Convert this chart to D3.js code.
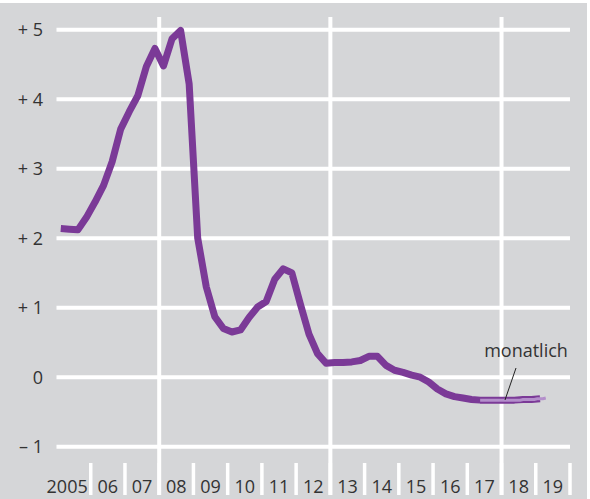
<!DOCTYPE html>
<html><head><meta charset="utf-8">
<script src="https://cdn.jsdelivr.net/npm/d3@7"></script>
<style>
html,body{margin:0;padding:0;background:#fff;}
svg text{font-family:"Open Sans","DejaVu Sans",sans-serif;fill:#333;}
</style></head>
<body><svg id="c" width="590" height="499"></svg>
<script>
// Quarterly values, 2005 Q1 .. 2019 Q1
const quarterlyStart = 2005;
const quarterlyValues = [
  2.14, 2.13, 2.12, 2.30,
  2.52, 2.76, 3.10, 3.57,
  3.82, 4.05, 4.47, 4.73,
  4.48, 4.87, 4.99, 4.22,
  2.00, 1.30, 0.87, 0.70,
  0.65, 0.68, 0.86, 1.01,
  1.09, 1.41, 1.56, 1.50,
  1.05, 0.62, 0.34, 0.20,
  0.21, 0.21, 0.22, 0.24,
  0.30, 0.30, 0.17, 0.10,
  0.07, 0.03, 0.00, -0.07,
  -0.17, -0.24, -0.28, -0.30,
  -0.32, -0.33, -0.33, -0.33,
  -0.33, -0.33, -0.32, -0.32,
  -0.31
];
// Monthly values, 2017 May .. 2019 Apr
const monthlyStart = [2017, 5];
const monthlyValues = [
  -0.33, -0.33, -0.33, -0.33, -0.33, -0.33, -0.33, -0.33,
  -0.33, -0.33, -0.33, -0.33, -0.33, -0.33, -0.33, -0.32,
  -0.32, -0.32, -0.32, -0.32, -0.31, -0.31, -0.31, -0.30
];
const yTicks = [5, 4, 3, 2, 1, 0, -1];
const yTickLabels = ["+ 5", "+ 4", "+ 3", "+ 2", "+ 1", "0", "\u2013 1"];
const years = d3.range(2005, 2020);
const yearLabels = ["2005","06","07","08","09","10","11","12","13","14","15","16","17","18","19"];
const majorYears = [2008, 2013, 2018];
const annotationText = "monatlich";

const svg = d3.select("#c");
const x = d3.scaleLinear().domain([2005, 2020]).range([56.5, 570]);
const y = d3.scaleLinear().domain([-1, 5]).range([446.7, 29.7]);

svg.append("rect").attr("x", 0).attr("y", 3).attr("width", 587).attr("height", 496).attr("fill", "#d5d6d8");

// horizontal gridlines
svg.append("g").selectAll("line").data(yTicks).join("line")
  .attr("x1", x(2005)).attr("x2", x(2020))
  .attr("y1", d => y(d)).attr("y2", d => y(d))
  .attr("stroke", "#fff").attr("stroke-width", 4);

// vertical gridlines
svg.append("g").selectAll("line").data(majorYears).join("line")
  .attr("x1", d => x(d)).attr("x2", d => x(d))
  .attr("y1", 17).attr("y2", 495)
  .attr("stroke", "#fff").attr("stroke-width", 4);

// year ticks
svg.append("g").selectAll("line").data(d3.range(2006, 2021)).join("line")
  .attr("x1", d => x(d)).attr("x2", d => x(d))
  .attr("y1", 463).attr("y2", 495)
  .attr("stroke", "#fff").attr("stroke-width", 3.5);

// y labels
svg.append("g").selectAll("text").data(yTicks).join("text")
  .attr("x", 43).attr("y", d => y(d)).attr("dy", "0.36em")
  .attr("text-anchor", "end").attr("font-size", 18)
  .text((d, i) => yTickLabels[i]);

// x labels
svg.append("g").selectAll("text").data(years).join("text")
  .attr("x", (d, i) => i === 0 ? x(d + 1) - 3 : x(d + 0.5))
  .attr("y", 493)
  .attr("text-anchor", (d, i) => i === 0 ? "end" : "middle")
  .attr("font-size", 18)
  .text((d, i) => yearLabels[i]);

// quarterly line
const qData = quarterlyValues.map((v, i) => ({t: quarterlyStart + i / 4 + 0.125, v}));
const line = d3.line().x(d => x(d.t)).y(d => y(d.v));
svg.append("path").datum(qData).attr("d", line)
  .attr("fill", "none").attr("stroke", "#7b3a97").attr("stroke-width", 7)
  .attr("stroke-linejoin", "round");

// monthly line
const mData = monthlyValues.map((v, i) => ({t: monthlyStart[0] + (monthlyStart[1] - 1 + i) / 12 + 1/24, v}));
svg.append("path").datum(mData).attr("d", line)
  .attr("fill", "none").attr("stroke", "#b48fcb").attr("stroke-width", 3);

// annotation
svg.append("line").attr("x1", 516).attr("y1", 368).attr("x2", 505).attr("y2", 400)
  .attr("stroke", "#222").attr("stroke-width", 1);
svg.append("text").attr("x", 526).attr("y", 357).attr("text-anchor", "middle")
  .attr("font-size", 18).text(annotationText);
</script></body></html>
